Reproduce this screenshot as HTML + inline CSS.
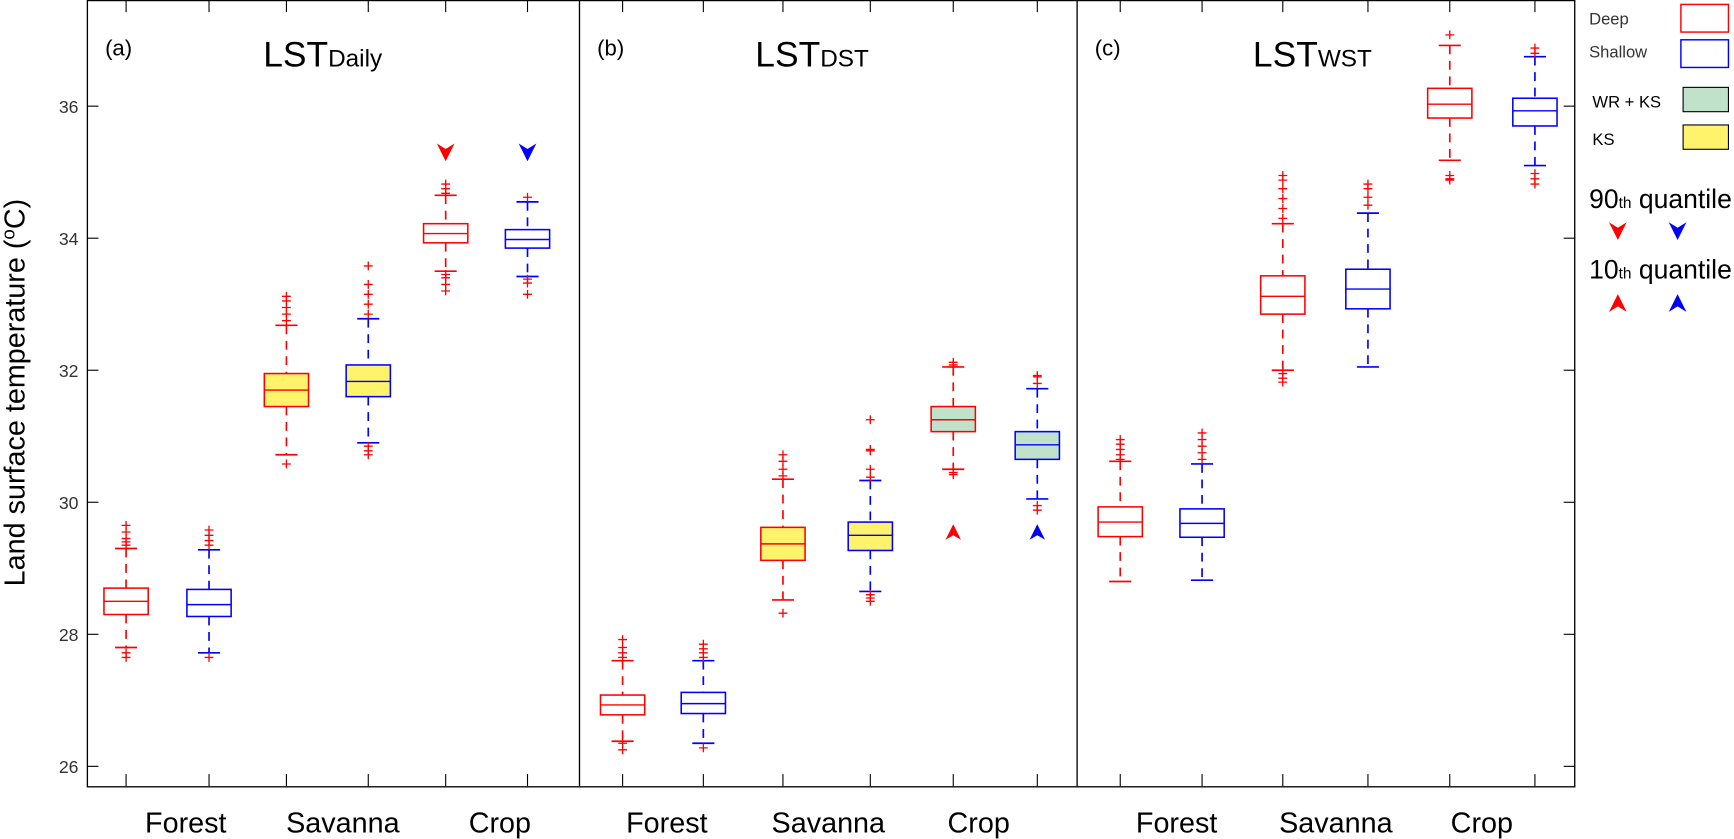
<!DOCTYPE html>
<html><head><meta charset="utf-8"><style>
html,body{margin:0;padding:0;background:#fff;}
svg{display:block;font-family:"Liberation Sans",sans-serif;}
</style></head><body>
<svg id="chart" width="1734" height="839" viewBox="0 0 1568 758.7" xmlns="http://www.w3.org/2000/svg">
<g id="axes"></g>
<g id="marks"></g>
<g id="legend">
  <text x="1437" y="22" font-size="15" fill="#333">Deep</text>
  <rect x="1520" y="4" width="43" height="25" fill="#fff" stroke="#f00" stroke-width="1.3"/>
  <text x="1437" y="52" font-size="15" fill="#333">Shallow</text>
  <rect x="1520" y="36" width="43" height="25" fill="#fff" stroke="#00f" stroke-width="1.3"/>
  <text x="1440" y="97" font-size="15" fill="#000">WR + KS</text>
  <rect x="1522" y="79" width="41" height="22" fill="#c0e2cb" stroke="#000" stroke-width="1"/>
  <text x="1440" y="131" font-size="15" fill="#000">KS</text>
  <rect x="1522" y="113" width="41" height="22" fill="#fff36b" stroke="#000" stroke-width="1"/>
  <text x="1437" y="188" font-size="24" fill="#000">90<tspan font-size="14">th</tspan> quantile</text>
  <path d="M1455,201 L1463,206 L1471,201 L1463,217 Z" fill="#f00"/>
  <path d="M1509,201 L1517,206 L1525,201 L1517,217 Z" fill="#00f"/>
  <text x="1437" y="252" font-size="24" fill="#000">10<tspan font-size="14">th</tspan> quantile</text>
  <path d="M1455,282 L1463,277 L1471,282 L1463,266 Z" fill="#f00"/>
  <path d="M1509,282 L1517,277 L1525,282 L1517,266 Z" fill="#00f"/>
</g>
</svg>
<script>
// ---- data ----
const panels = ["a","b","c"];
const panelTitles = ["Daily","DST","WST"];
const categories = ["Forest","Savanna","Crop"];
const yTicks = [26,28,30,32,34,36];
// each box: [q1, median, q3, whiskerLow, whiskerHigh] ; order per panel: ForestDeep, ForestShallow, SavDeep, SavShallow, CropDeep, CropShallow
const boxStatsA = [[28.3,28.5,28.7,27.8,29.3],[28.27,28.45,28.68,27.72,29.28],[31.45,31.7,31.95,30.72,32.68],[31.6,31.83,32.08,30.9,32.78],[33.93,34.07,34.22,33.5,34.65],[33.85,33.98,34.13,33.42,34.55]];
const boxStatsB = [[26.78,26.93,27.08,26.38,27.6],[26.8,26.95,27.12,26.35,27.6],[29.12,29.37,29.62,28.52,30.35],[29.27,29.5,29.7,28.65,30.33],[31.07,31.25,31.45,30.5,32.05],[30.65,30.87,31.07,30.05,31.72]];
const boxStatsC = [[29.48,29.7,29.93,28.8,30.62],[29.47,29.68,29.9,28.82,30.58],[32.85,33.12,33.43,32.0,34.22],[32.93,33.23,33.53,32.05,34.38],[35.82,36.03,36.27,35.18,36.92],[35.7,35.93,36.12,35.1,36.75]];
const outliersA = [[29.35,29.4,29.45,29.55,29.65,27.72,27.65],[29.35,29.42,29.5,29.58,27.65],[32.75,32.85,32.95,33.05,33.12,30.58],[32.85,33.0,33.15,33.3,33.58,30.85,30.78,30.72],[34.68,34.75,34.82,33.45,33.4,33.3,33.2],[34.62,33.38,33.32,33.15]];
const outliersB = [[27.65,27.72,27.8,27.92,26.35,26.25],[27.65,27.72,27.78,27.85,26.28],[30.4,30.5,30.62,30.72,28.32],[30.38,30.5,30.78,30.8,31.25,28.6,28.55,28.5],[32.05,32.08,32.12,30.45,30.42],[31.8,31.9,31.92,29.95,29.88]];
const outliersC = [[30.65,30.72,30.8,30.88,30.95],[30.65,30.75,30.85,30.95,31.05],[34.3,34.45,34.6,34.75,34.88,34.95,31.95,31.88,31.82],[34.5,34.62,34.75,34.82],[37.08,34.95,34.9,34.88],[36.8,36.88,34.98,34.9,34.82]];
const fills = [["#fff","#fff","#fff36b","#fff36b","#fff","#fff"],["#fff","#fff","#fff36b","#fff36b","#c0e2cb","#c0e2cb"],["#fff","#fff","#fff","#fff","#fff","#fff"]];
const tri90 = [[35.3,35.3],null,null];
const tri10 = [null,[29.55,29.55],null];
// ---- layout ----
const NS="http://www.w3.org/2000/svg";
const X0=79,X1=1424,YT=0,YB=711;
const panelX=[[79,524],[524,974],[974,1424]];
const boxX=[[114,189,259,333,403,477],[563,636,708,787,862,938],[1013,1087,1160,1237,1311,1388]];
const catX=[[168,310,452],[603,749,885],[1064,1208,1340]];
function y(v){return 693-(v-26)*59.7;}
function mk(tag,attrs,parent){const e=document.createElementNS(NS,tag);for(const k in attrs)e.setAttribute(k,attrs[k]);parent.appendChild(e);return e;}
const axes=document.getElementById('axes'), marks=document.getElementById('marks');
const fr=mk('rect',{x:X0,y:YT+0.5,width:X1-X0,height:YB-YT,fill:'none',stroke:'#000','stroke-width':1.2},axes);


[524,974].forEach((px,i)=>{const l=mk('line',{x1:px,x2:px,y1:YT,y2:YB,stroke:'#000','stroke-width':1.2},axes);

});
yTicks.forEach(t=>{
  const l=mk('line',{x1:X0,x2:X0+10,y1:y(t),y2:y(t),stroke:'#000'},axes);
  
  
  const l2=mk('line',{x1:X1-10,x2:X1,y1:y(t),y2:y(t),stroke:'#000'},axes);
  
  
  const tx=mk('text',{x:X0-8,y:y(t)+6,'text-anchor':'end','font-size':16,fill:'#333'},axes);
  tx.textContent=t;
  
  
});
const yt=mk('text',{x:0,y:0,transform:'translate(22,355) rotate(-90)','text-anchor':'middle','font-size':26,fill:'#000'},axes);
yt.innerHTML='Land surface temperature  (<tspan baseline-shift="super" font-size="17">o</tspan>C)';


const stats=[boxStatsA,boxStatsB,boxStatsC], outs=[outliersA,outliersB,outliersC];
panels.forEach((p,pi)=>{
  const px=panelX[pi][0];
  const lab=mk('text',{x:px+16,y:50,'font-size':20,fill:'#000'},axes);
  lab.textContent='('+p+')';
  
  
  const tt=mk('text',{x:px+159,y:60,'font-size':32,fill:'#000'},axes);
  tt.innerHTML='LST<tspan font-size="22">'+panelTitles[pi]+'</tspan>';
  
  
  categories.forEach((c,ci)=>{
    const t=mk('text',{x:catX[pi][ci],y:753,'text-anchor':'middle','font-size':26,fill:'#000'},axes);
    t.textContent=c;
    
    
  });
  boxX[pi].forEach((bx,bi)=>{
    const tk=mk('line',{x1:bx,x2:bx,y1:YB-11,y2:YB,stroke:'#000'},axes);
    
    
    const tk2=mk('line',{x1:bx,x2:bx,y1:YT,y2:YT+11,stroke:'#000'},axes);
    
    
    const s=stats[pi][bi], col=bi%2===0?'#f00':'#00f';
    const g=mk('g',{},marks);
    
    
    mk('line',{x1:bx,x2:bx,y1:y(s[4]),y2:y(s[2]),stroke:col,'stroke-width':1.5,'stroke-dasharray':'8,6'},g);
    mk('line',{x1:bx,x2:bx,y1:y(s[0]),y2:y(s[3]),stroke:col,'stroke-width':1.5,'stroke-dasharray':'8,6'},g);
    mk('line',{x1:bx-10,x2:bx+10,y1:y(s[4]),y2:y(s[4]),stroke:col,'stroke-width':1.5},g);
    mk('line',{x1:bx-10,x2:bx+10,y1:y(s[3]),y2:y(s[3]),stroke:col,'stroke-width':1.5},g);
    mk('rect',{x:bx-20,y:y(s[2]),width:40,height:y(s[0])-y(s[2]),fill:fills[pi][bi],stroke:col,'stroke-width':1.4},g);
    mk('line',{x1:bx-20,x2:bx+20,y1:y(s[1]),y2:y(s[1]),stroke:col,'stroke-width':1.3},g);
    outs[pi][bi].forEach(o=>{
      mk('path',{d:`M${bx-4},${y(o)} h8 M${bx},${y(o)-4} v8`,stroke:'#f00','stroke-width':1.2,fill:'none'},g);
    });
  });
  if(tri90[pi]) tri90[pi].forEach((v,k)=>{
    const bx=boxX[pi][4+k], yy=y(v);
    const t=mk('path',{d:`M${bx-8},${yy-8} L${bx},${yy-3} L${bx+8},${yy-8} L${bx},${yy+8} Z`,fill:k===0?'#f00':'#00f'},marks);
    
    
  });
  if(tri10[pi]) tri10[pi].forEach((v,k)=>{
    const bx=boxX[pi][4+k], yy=y(v);
    const t=mk('path',{d:`M${bx-7},${yy+7} L${bx},${yy+3} L${bx+7},${yy+7} L${bx},${yy-7} Z`,fill:k===0?'#f00':'#00f'},marks);
    
    
  });
});
</script>
</body></html>
